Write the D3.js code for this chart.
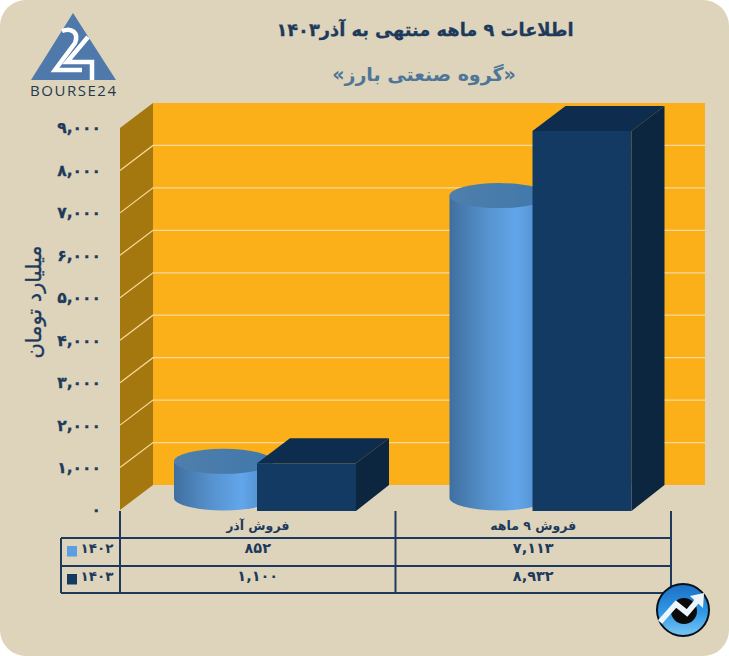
<!DOCTYPE html>
<html>
<head>
<meta charset="utf-8">
<script src="https://cdnjs.cloudflare.com/ajax/libs/d3/7.8.5/d3.min.js"></script>
<style>
html, body { margin: 0; padding: 0; background: #fff; }
svg { display: block; }
text { font-family: "DejaVu Sans", sans-serif; font-weight: bold; fill: #1d3a5c; }
</style>
</head>
<body>
<div id="vis"></div>
<script>
const categories = ["فروش آذر", "فروش ۹ ماهه"];
const years = ["۱۴۰۲", "۱۴۰۳"];
const sales1402 = [852, 7113];
const sales1403 = [1100, 8932];
const yTicks = [0, 1000, 2000, 3000, 4000, 5000, 6000, 7000, 8000, 9000];
const title = "اطلاعات ۹ ماهه منتهی به آذر۱۴۰۳";
const subtitle = "«گروه صنعتی بارز»";
const yTitle = "میلیارد تومان";

const width = 729, height = 656;
const depthX = 33, depthY = 25;
const navy = "#1d3a5c", boxFront = "#133a63", boxTop = "#0d2c4e", boxSide = "#0d2640";

// persian digits with a latin comma, like the picture
const toFa = v => d3.format(",")(v).replace(/\d/g, d => "۰۱۲۳۴۵۶۷۸۹"[d]);

const svg = d3.select("#vis").append("svg")
    .attr("width", width)
    .attr("height", height)
    .attr("viewBox", [0, 0, width, height]);

const defs = svg.append("defs");
const side = defs.append("linearGradient").attr("id", "cylSide");
side.append("stop").attr("offset", "0%").attr("stop-color", "#3f6f9f");
side.append("stop").attr("offset", "35%").attr("stop-color", "#5590cb");
side.append("stop").attr("offset", "68%").attr("stop-color", "#62a6ea");
side.append("stop").attr("offset", "100%").attr("stop-color", "#4b86c2");
const cap = defs.append("linearGradient").attr("id", "cylTop");
cap.append("stop").attr("offset", "0%").attr("stop-color", "#4f7fac");
cap.append("stop").attr("offset", "100%").attr("stop-color", "#4078ab");
const badge = defs.append("linearGradient").attr("id", "badge").attr("x2", 0).attr("y2", 1);
badge.append("stop").attr("offset", "0%").attr("stop-color", "#1c6fc4");
badge.append("stop").attr("offset", "55%").attr("stop-color", "#2f9ae6");
badge.append("stop").attr("offset", "100%").attr("stop-color", "#7cc6f4");

svg.append("rect")
    .attr("width", width).attr("height", height)
    .attr("rx", 26)
    .attr("fill", "#ded4bb");

const x = d3.scaleBand().domain(categories).range([120, 671]);
const y = d3.scaleLinear().domain([0, 9000]).range([510, 128]);

const line2 = d3.line();

// back wall and left wall
svg.append("rect")
    .attr("x", x.range()[0] + depthX)
    .attr("y", y(9000) - depthY)
    .attr("width", 705 - x.range()[0] - depthX)
    .attr("height", y(0) - y(9000))
    .attr("fill", "#fbb01a");

svg.append("path")
    .attr("d", line2([
        [x.range()[0], y(9000)],
        [x.range()[0] + depthX, y(9000) - depthY],
        [x.range()[0] + depthX, y(0) - depthY],
        [x.range()[0], y(0)]
    ]) + "Z")
    .attr("fill", "#a5780f");

// grid lines run along the left wall, then across the back
const grid = svg.append("g")
    .attr("fill", "none")
    .attr("stroke", "#f8d99a")
    .attr("stroke-width", 1.2);
grid.selectAll("path")
    .data(yTicks.filter(d => d > 0 && d < 9000))
    .join("path")
    .attr("d", d => line2([
        [x.range()[0], y(d)],
        [x.range()[0] + depthX, y(d) - depthY],
        [705, y(d) - depthY]
    ]));

// bars: cylinder for 1402, box for 1403, in each category
const barW = 99;
const cylOffset = 54, boxOffset = 137;
const ry = 12.5;

categories.forEach((c, i) => {
    const g = svg.append("g");

    const cx0 = x(c) + cylOffset;
    const top = y(sales1402[i]) - ry;
    const base = y(0) - ry + 0.5;
    g.append("path")
        .attr("d", `M${cx0},${top}V${base}A${barW / 2},${ry} 0 0 0 ${cx0 + barW},${base}V${top}Z`)
        .attr("fill", "url(#cylSide)");
    g.append("ellipse")
        .attr("cx", cx0 + barW / 2)
        .attr("cy", top)
        .attr("rx", barW / 2)
        .attr("ry", ry)
        .attr("fill", "url(#cylTop)");

    const bx = x(c) + boxOffset;
    const by = y(sales1403[i]);
    g.append("path")
        .attr("d", line2([[bx, by], [bx + depthX, by - depthY], [bx + barW + depthX, by - depthY], [bx + barW, by]]) + "Z")
        .attr("fill", boxTop);
    g.append("path")
        .attr("d", line2([[bx + barW, by], [bx + barW + depthX, by - depthY], [bx + barW + depthX, y(0) - depthY], [bx + barW, y(0) + 1]]) + "Z")
        .attr("fill", boxSide);
    g.append("rect")
        .attr("x", bx).attr("y", by)
        .attr("width", barW).attr("height", y(0) + 1 - by)
        .attr("fill", boxFront);
});

// value axis
const yAxis = d3.axisLeft(y)
    .tickValues(yTicks)
    .tickSize(0)
    .tickPadding(19)
    .tickFormat(toFa);
const axisG = svg.append("g")
    .attr("transform", `translate(${x.range()[0]},0)`)
    .call(yAxis);
axisG.select(".domain").remove();
axisG.selectAll("text")
    .attr("font-family", null)
    .style("font-size", "15.5px")
    .style("fill", navy)
    .style("stroke", navy)
    .style("stroke-width", 0.3);

svg.append("text")
    .attr("transform", "translate(35,302) rotate(-90)")
    .attr("text-anchor", "middle")
    .attr("dominant-baseline", "middle")
    .style("font-size", "21px")
    .style("font-weight", "normal")
    .style("stroke", navy)
    .style("stroke-width", 0.3)
    .text(yTitle);

// titles
svg.append("text")
    .attr("x", 425).attr("y", 36)
    .attr("text-anchor", "middle")
    .style("font-size", "17.8px")
    .style("stroke", navy)
    .style("stroke-width", 0.3)
    .text(title);
svg.append("text")
    .attr("x", 424).attr("y", 81)
    .attr("text-anchor", "middle")
    .style("font-size", "19px")
    .style("fill", "#4f7698")
    .text(subtitle);

// data table under the chart
const rowY = [538, 566, 593];
const table = svg.append("g")
    .attr("stroke", navy)
    .attr("stroke-width", 2)
    .attr("fill", "none");
rowY.forEach(ry2 => table.append("line")
    .attr("x1", 61).attr("x2", x.range()[1]).attr("y1", ry2).attr("y2", ry2));
table.append("line").attr("x1", 61).attr("x2", 61).attr("y1", rowY[0]).attr("y2", rowY[2]);
x.domain().concat("end").forEach((c, i) => {
    const xx = i < categories.length ? x(c) : x.range()[1];
    table.append("line").attr("x1", xx).attr("x2", xx).attr("y1", y(0) + 1).attr("y2", rowY[2]);
});

svg.append("g").selectAll("text")
    .data(categories)
    .join("text")
    .attr("x", d => x(d) + x.bandwidth() / 2)
    .attr("y", 530)
    .attr("text-anchor", "middle")
    .style("font-size", "12.5px")
    .text(d => d);

[sales1402, sales1403].forEach((vals, r) => {
    svg.append("g").selectAll("text")
        .data(vals)
        .join("text")
        .attr("x", (d, i) => x(categories[i]) + x.bandwidth() / 2)
        .attr("y", rowY[r] + 15)
        .attr("text-anchor", "middle")
        .style("font-size", "14.5px")
        .text(toFa);
    svg.append("rect")
        .attr("x", 67).attr("y", rowY[r] + 8)
        .attr("width", 10).attr("height", 10.5)
        .attr("fill", r === 0 ? "#5a9fe3" : boxFront);
    svg.append("text")
        .attr("x", 97).attr("y", rowY[r] + 15)
        .attr("text-anchor", "middle")
        .style("font-size", "13.5px")
        .text(years[r]);
});

// logo
const logo = svg.append("g");
logo.append("path").attr("d", "M73,13L116,80H31Z").attr("fill", "#4f79aa");
logo.append("path")
    .attr("d", "M62,31C72,27 79,33 75,43L55,70H82")
    .attr("fill", "none").attr("stroke", "#fff").attr("stroke-width", 4.5);
logo.append("path")
    .attr("d", "M88,37L67,62H92V80")
    .attr("fill", "none").attr("stroke", "#fff").attr("stroke-width", 4.5);
logo.append("text")
    .attr("x", 73).attr("y", 96)
    .attr("text-anchor", "middle")
    .attr("textLength", 86)
    .style("font-family", "'Open Sans', sans-serif")
    .style("font-weight", "normal")
    .style("font-size", "15px")
    .style("fill", "#1d3a4f")
    .text("BOURSE24");

// badge
const b = svg.append("g").attr("transform", "translate(683,610)");
b.append("circle").attr("r", 26).attr("fill", "url(#badge)").attr("stroke", "#071018").attr("stroke-width", 2);
b.append("circle").attr("cx", 1).attr("cy", 1).attr("r", 13).attr("fill", "#0a0a0a");
b.append("path")
    .attr("d", "M-23,12L-7,-6L4,3L15,-10")
    .attr("fill", "none").attr("stroke", "#eef6fb").attr("stroke-width", 5.5);
b.append("path").attr("d", "M7,-14L21,-17L20,-2Z").attr("fill", "#eef6fb");
</script>
</body>
</html>
